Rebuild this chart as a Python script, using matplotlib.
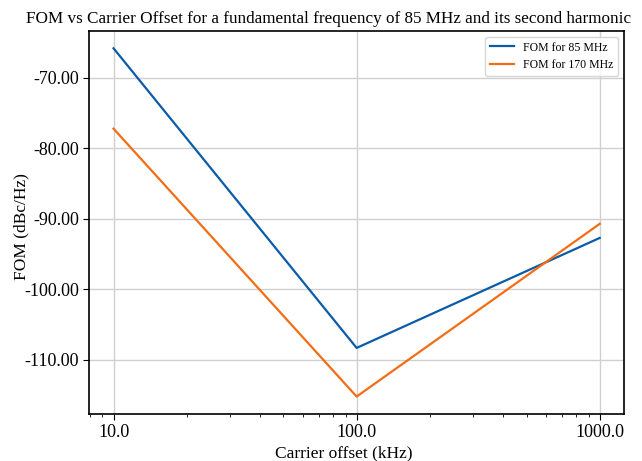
import matplotlib
matplotlib.use("Agg")
import matplotlib.pyplot as plt
from matplotlib.ticker import FormatStrFormatter, FixedLocator

# carrier offsets (kHz) and FOM (dBc/Hz)
offsets = [10.0, 100.0, 1000.0]
fom_85 = [-65.8, -108.3, -92.7]
fom_170 = [-77.2, -115.2, -90.7]
labels = ["FOM for 85 MHz", "FOM for 170 MHz"]

plt.rcParams["font.family"] = ["Liberation Serif", "DejaVu Serif"]

fig, ax = plt.subplots(figsize=(6.42, 4.61), dpi=100)
fig.subplots_adjust(left=0.139, right=0.972, top=0.933, bottom=0.102)

ax.plot(offsets, fom_85, color="#0b5ca8", linewidth=1.6, label=labels[0])
ax.plot(offsets, fom_170, color="#f26d14", linewidth=1.6, label=labels[1])

ax.set_xscale("log")
ax.xaxis.set_major_locator(FixedLocator(offsets))
ax.xaxis.set_major_formatter(FormatStrFormatter("%.1f"))
ax.yaxis.set_major_formatter(FormatStrFormatter("%.2f"))

ax.grid(True, which="major", color="#d0d0d0", linewidth=1.0)
ax.tick_params(axis="both", which="major", labelsize=13, length=4)
ax.tick_params(axis="x", which="minor", length=2)
for s in ax.spines.values():
    s.set_linewidth(1.2)

ax.set_xlabel("Carrier offset (kHz)", fontsize=12.5)
ax.xaxis.set_label_coords(0.475, -0.083)
ax.set_ylabel("FOM (dBc/Hz)", fontsize=12.5)
ax.yaxis.set_label_coords(-0.112, 0.49)
ax.set_title("FOM vs Carrier Offset for a fundamental frequency of 85 MHz and its second harmonic",
             fontsize=12.3, pad=6, x=0.447)
ax.legend(loc="upper right", fontsize=8.5, frameon=True, handlelength=2.0)

fig.savefig("out.png", dpi=100)
